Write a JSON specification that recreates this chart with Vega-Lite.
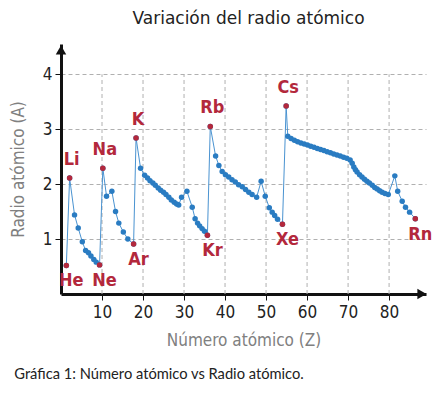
{
  "$schema": "https://vega.github.io/schema/vega-lite/v6.json",
  "background": "white",
  "padding": {"left": 9, "top": 10, "right": 5, "bottom": 5},
  "title": {"text": "Gráfica 1: Número atómico vs Radio atómico.", "orient": "bottom", "anchor": "start", "frame": "bounds", "font": "Lato", "fontSize": 14.7, "fontWeight": "normal", "color": "#222222", "offset": 19, "dx": 5},
  "config": {"view": {"stroke": null}},
  "datasets": {
    "atoms": [
      {"z": 1.3, "r": 0.52, "label": "He", "pos": "below"},
      {"z": 2.1, "r": 2.11, "label": "Li", "pos": "above"},
      {"z": 3.3, "r": 1.44, "label": "", "pos": ""},
      {"z": 4.2, "r": 1.20, "label": "", "pos": ""},
      {"z": 5.2, "r": 0.95, "label": "", "pos": ""},
      {"z": 6.0, "r": 0.79, "label": "", "pos": ""},
      {"z": 6.7, "r": 0.75, "label": "", "pos": ""},
      {"z": 7.3, "r": 0.69, "label": "", "pos": ""},
      {"z": 8.0, "r": 0.63, "label": "", "pos": ""},
      {"z": 8.6, "r": 0.58, "label": "", "pos": ""},
      {"z": 9.4, "r": 0.53, "label": "Ne", "pos": "below"},
      {"z": 10.2, "r": 2.29, "label": "Na", "pos": "above"},
      {"z": 11.1, "r": 1.78, "label": "", "pos": ""},
      {"z": 12.4, "r": 1.87, "label": "", "pos": ""},
      {"z": 13.3, "r": 1.50, "label": "", "pos": ""},
      {"z": 14.1, "r": 1.29, "label": "", "pos": ""},
      {"z": 15.2, "r": 1.13, "label": "", "pos": ""},
      {"z": 16.3, "r": 1.00, "label": "", "pos": ""},
      {"z": 17.7, "r": 0.91, "label": "Ar", "pos": "below"},
      {"z": 18.3, "r": 2.84, "label": "K", "pos": "above"},
      {"z": 19.4, "r": 2.29, "label": "", "pos": ""},
      {"z": 20.4, "r": 2.16, "label": "", "pos": ""},
      {"z": 21.1, "r": 2.11, "label": "", "pos": ""},
      {"z": 21.7, "r": 2.06, "label": "", "pos": ""},
      {"z": 22.4, "r": 2.02, "label": "", "pos": ""},
      {"z": 23.0, "r": 1.98, "label": "", "pos": ""},
      {"z": 23.7, "r": 1.93, "label": "", "pos": ""},
      {"z": 24.3, "r": 1.89, "label": "", "pos": ""},
      {"z": 25.0, "r": 1.85, "label": "", "pos": ""},
      {"z": 25.6, "r": 1.81, "label": "", "pos": ""},
      {"z": 26.3, "r": 1.76, "label": "", "pos": ""},
      {"z": 26.9, "r": 1.71, "label": "", "pos": ""},
      {"z": 27.6, "r": 1.67, "label": "", "pos": ""},
      {"z": 28.2, "r": 1.64, "label": "", "pos": ""},
      {"z": 28.7, "r": 1.62, "label": "", "pos": ""},
      {"z": 29.4, "r": 1.76, "label": "", "pos": ""},
      {"z": 30.7, "r": 1.87, "label": "", "pos": ""},
      {"z": 32.0, "r": 1.58, "label": "", "pos": ""},
      {"z": 32.7, "r": 1.37, "label": "", "pos": ""},
      {"z": 33.3, "r": 1.29, "label": "", "pos": ""},
      {"z": 33.8, "r": 1.24, "label": "", "pos": ""},
      {"z": 34.4, "r": 1.19, "label": "", "pos": ""},
      {"z": 35.0, "r": 1.14, "label": "", "pos": ""},
      {"z": 35.7, "r": 1.07, "label": "Kr", "pos": "below"},
      {"z": 36.4, "r": 3.05, "label": "Rb", "pos": "above"},
      {"z": 37.7, "r": 2.51, "label": "", "pos": ""},
      {"z": 38.5, "r": 2.34, "label": "", "pos": ""},
      {"z": 39.3, "r": 2.23, "label": "", "pos": ""},
      {"z": 40.1, "r": 2.17, "label": "", "pos": ""},
      {"z": 40.9, "r": 2.13, "label": "", "pos": ""},
      {"z": 41.7, "r": 2.08, "label": "", "pos": ""},
      {"z": 42.5, "r": 2.04, "label": "", "pos": ""},
      {"z": 43.3, "r": 1.99, "label": "", "pos": ""},
      {"z": 44.2, "r": 1.95, "label": "", "pos": ""},
      {"z": 45.0, "r": 1.90, "label": "", "pos": ""},
      {"z": 45.8, "r": 1.85, "label": "", "pos": ""},
      {"z": 46.6, "r": 1.81, "label": "", "pos": ""},
      {"z": 47.7, "r": 1.76, "label": "", "pos": ""},
      {"z": 48.8, "r": 2.05, "label": "", "pos": ""},
      {"z": 49.8, "r": 1.78, "label": "", "pos": ""},
      {"z": 50.8, "r": 1.57, "label": "", "pos": ""},
      {"z": 51.5, "r": 1.49, "label": "", "pos": ""},
      {"z": 52.1, "r": 1.43, "label": "", "pos": ""},
      {"z": 52.8, "r": 1.36, "label": "", "pos": ""},
      {"z": 54.0, "r": 1.27, "label": "Xe", "pos": "below"},
      {"z": 54.9, "r": 3.42, "label": "Cs", "pos": "above"},
      {"z": 55.3, "r": 2.87, "label": "", "pos": ""},
      {"z": 56.1, "r": 2.83, "label": "", "pos": ""},
      {"z": 56.9, "r": 2.80, "label": "", "pos": ""},
      {"z": 57.7, "r": 2.77, "label": "", "pos": ""},
      {"z": 58.5, "r": 2.75, "label": "", "pos": ""},
      {"z": 59.3, "r": 2.73, "label": "", "pos": ""},
      {"z": 60.1, "r": 2.71, "label": "", "pos": ""},
      {"z": 60.9, "r": 2.69, "label": "", "pos": ""},
      {"z": 61.7, "r": 2.67, "label": "", "pos": ""},
      {"z": 62.5, "r": 2.65, "label": "", "pos": ""},
      {"z": 63.3, "r": 2.63, "label": "", "pos": ""},
      {"z": 64.1, "r": 2.61, "label": "", "pos": ""},
      {"z": 64.9, "r": 2.59, "label": "", "pos": ""},
      {"z": 65.7, "r": 2.57, "label": "", "pos": ""},
      {"z": 66.5, "r": 2.55, "label": "", "pos": ""},
      {"z": 67.3, "r": 2.53, "label": "", "pos": ""},
      {"z": 68.1, "r": 2.51, "label": "", "pos": ""},
      {"z": 68.9, "r": 2.49, "label": "", "pos": ""},
      {"z": 69.7, "r": 2.47, "label": "", "pos": ""},
      {"z": 70.5, "r": 2.44, "label": "", "pos": ""},
      {"z": 71.0, "r": 2.38, "label": "", "pos": ""},
      {"z": 71.4, "r": 2.31, "label": "", "pos": ""},
      {"z": 71.8, "r": 2.26, "label": "", "pos": ""},
      {"z": 72.2, "r": 2.22, "label": "", "pos": ""},
      {"z": 72.8, "r": 2.17, "label": "", "pos": ""},
      {"z": 73.4, "r": 2.13, "label": "", "pos": ""},
      {"z": 74.0, "r": 2.09, "label": "", "pos": ""},
      {"z": 74.6, "r": 2.05, "label": "", "pos": ""},
      {"z": 75.2, "r": 2.02, "label": "", "pos": ""},
      {"z": 75.9, "r": 1.98, "label": "", "pos": ""},
      {"z": 76.5, "r": 1.94, "label": "", "pos": ""},
      {"z": 77.1, "r": 1.91, "label": "", "pos": ""},
      {"z": 77.7, "r": 1.88, "label": "", "pos": ""},
      {"z": 78.3, "r": 1.85, "label": "", "pos": ""},
      {"z": 79.0, "r": 1.83, "label": "", "pos": ""},
      {"z": 79.8, "r": 1.81, "label": "", "pos": ""},
      {"z": 81.4, "r": 2.15, "label": "", "pos": ""},
      {"z": 82.1, "r": 1.87, "label": "", "pos": ""},
      {"z": 83.2, "r": 1.69, "label": "", "pos": ""},
      {"z": 84.0, "r": 1.58, "label": "", "pos": ""},
      {"z": 85.0, "r": 1.49, "label": "", "pos": ""},
      {"z": 86.4, "r": 1.37, "label": "Rn", "pos": "below"}
    ],
    "vgrid": [{"x": 10, "y0": 0, "y1": 4}, {"x": 20, "y0": 0, "y1": 4}, {"x": 30, "y0": 0, "y1": 4}, {"x": 40, "y0": 0, "y1": 4}, {"x": 50, "y0": 0, "y1": 4}, {"x": 60, "y0": 0, "y1": 4}, {"x": 70, "y0": 0, "y1": 4}, {"x": 80, "y0": 0, "y1": 4}],
    "arrows": [{"x": 0, "y": 4.44, "shape": "triangle-up"}, {"x": 88, "y": 0, "shape": "triangle-right"}]
  },
  "vconcat": [
    {
      "width": 365,
      "height": 250,
      "title": {"text": "Variación del radio atómico", "font": "DejaVu Sans", "fontSize": 17, "fontWeight": "normal", "color": "#222222", "anchor": "middle", "offset": 16, "dx": 5},
      "layer": [
        {
          "data": {"name": "vgrid"},
          "mark": {"type": "rule", "stroke": "#b0b0b0", "strokeDash": [4, 3], "strokeWidth": 1},
          "encoding": {
            "x": {"field": "x", "type": "quantitative", "scale": {"domain": [0, 89], "nice": false}, "axis": {"title": "Número atómico (Z)", "values": [10, 20, 30, 40, 50, 60, 70, 80], "grid": false, "domainColor": "#111111", "domainWidth": 3, "tickColor": "#111111", "tickSize": 6, "tickWidth": 1, "labelFont": "DejaVu Sans Condensed, Roboto, sans-serif", "labelFontSize": 17, "labelColor": "#222222", "labelPadding": 4, "titleFont": "DejaVu Sans Condensed, Roboto, sans-serif", "titleFontSize": 17, "titleFontWeight": "normal", "titleColor": "#808080", "titlePadding": 12}},
            "y": {"field": "y0", "type": "quantitative", "scale": {"domain": [0, 4.55], "nice": false}, "axis": {"title": "Radio atómico (A)", "values": [1, 2, 3, 4], "format": "d", "grid": true, "gridColor": "#b0b0b0", "gridDash": [4, 3], "gridWidth": 1, "domainColor": "#111111", "domainWidth": 3, "tickColor": "#111111", "tickSize": 6, "tickWidth": 1, "labelFont": "DejaVu Sans Condensed, Roboto, sans-serif", "labelFontSize": 17, "labelColor": "#222222", "labelPadding": 3, "titleFont": "DejaVu Sans Condensed, Roboto, sans-serif", "titleFontSize": 17, "titleFontWeight": "normal", "titleColor": "#808080", "titlePadding": 15}},
            "y2": {"field": "y1"}
          }
        },
        {
          "data": {"name": "atoms"},
          "mark": {"type": "line", "color": "#4a93d1", "strokeWidth": 1},
          "encoding": {
            "x": {"field": "z", "type": "quantitative"},
            "y": {"field": "r", "type": "quantitative"},
            "order": {"field": "z", "type": "quantitative"}
          }
        },
        {
          "data": {"name": "atoms"},
          "mark": {"type": "point", "filled": true, "color": "#2a7cc2", "size": 30, "opacity": 1},
          "encoding": {
            "x": {"field": "z", "type": "quantitative"},
            "y": {"field": "r", "type": "quantitative"}
          }
        },
        {
          "data": {"name": "atoms"},
          "transform": [{"filter": "datum.label != ''"}],
          "mark": {"type": "point", "filled": true, "color": "#b3283c", "size": 30, "opacity": 1},
          "encoding": {
            "x": {"field": "z", "type": "quantitative"},
            "y": {"field": "r", "type": "quantitative"}
          }
        },
        {
          "data": {"name": "atoms"},
          "transform": [{"filter": "datum.pos == 'above'"}],
          "mark": {"type": "text", "color": "#b3283c", "font": "DejaVu Sans Condensed, Roboto, sans-serif", "fontSize": 18, "fontWeight": "bold", "baseline": "middle", "dy": -18, "dx": 2},
          "encoding": {
            "x": {"field": "z", "type": "quantitative"},
            "y": {"field": "r", "type": "quantitative"},
            "text": {"field": "label"}
          }
        },
        {
          "data": {"name": "atoms"},
          "transform": [{"filter": "datum.pos == 'below'"}],
          "mark": {"type": "text", "color": "#b3283c", "font": "DejaVu Sans Condensed, Roboto, sans-serif", "fontSize": 18, "fontWeight": "bold", "baseline": "middle", "dy": 16, "dx": 5},
          "encoding": {
            "x": {"field": "z", "type": "quantitative"},
            "y": {"field": "r", "type": "quantitative"},
            "text": {"field": "label"}
          }
        },
        {
          "data": {"name": "arrows"},
          "mark": {"type": "point", "filled": true, "color": "#111111", "size": 110, "opacity": 1, "clip": false},
          "encoding": {
            "x": {"field": "x", "type": "quantitative"},
            "y": {"field": "y", "type": "quantitative"},
            "shape": {"field": "shape", "type": "nominal", "scale": null}
          }
        }
      ]
    }
  ]
}
